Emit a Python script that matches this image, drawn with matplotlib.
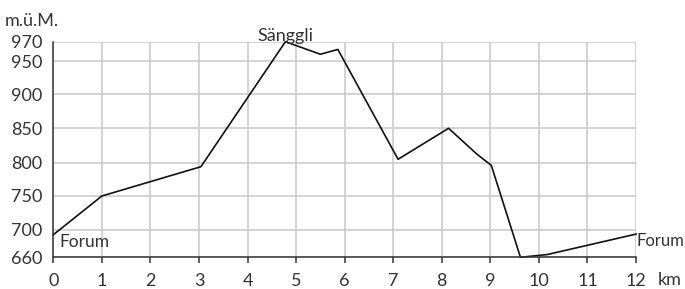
import numpy as np
import matplotlib
matplotlib.use("Agg")
import matplotlib.pyplot as plt
from matplotlib.scale import FuncScale

plt.rcParams["font.family"] = ["Lato", "DejaVu Sans"]

# Elevation profile (km, m.ü.M.)
km = [0, 1, 3.04, 4.78, 5.5, 5.86, 7.1, 8.14, 8.73, 9.02, 9.62, 10.17, 12]
hoehe = [693, 750, 794, 970, 957, 962, 805, 850, 812, 796, 660, 664, 694]

x_ticks = list(range(0, 13))
y_ticks = [660, 700, 750, 800, 850, 900, 950, 970]
# the original axis is not evenly spaced; relative positions of the ticks
y_pos = [0, 27.3, 61.3, 94.6, 129.0, 163.0, 196.3, 215.6]


def fwd(v):
    return np.interp(v, y_ticks, y_pos, left=-1e3, right=1e3)


def inv(p):
    return np.interp(p, y_pos, y_ticks)


fig = plt.figure(figsize=(6.85, 2.89), dpi=100)
ax = fig.add_axes([0.0778, 0.1097, 0.8507, 0.746])

ax.plot(km, hoehe, color="#111111", lw=1.2, zorder=3, clip_on=False)

ax.set_yscale(FuncScale(ax, (fwd, inv)))
ax.set_xlim(0, 12)
ax.set_ylim(660, 970)
ax.set_xticks(x_ticks)
ax.set_yticks(y_ticks)
ax.tick_params(axis="x", direction="out", length=4.5, width=1.1, color="#333333",
               labelsize=13, pad=6.5, labelcolor="#333333")
ax.tick_params(axis="y", length=0, labelsize=13, pad=8, labelcolor="#333333")
ax.grid(True, color="#c8c8c8", lw=1.1, zorder=0)

for s in ["top", "right"]:
    ax.spines[s].set_visible(False)
for s in ["left", "bottom"]:
    ax.spines[s].set_color("#333333")
    ax.spines[s].set_linewidth(1.1)
    ax.spines[s].set_zorder(4)

ax.text(-0.083, 1.06, "m.ü.M.", transform=ax.transAxes, fontsize=13,
        color="#333333", ha="left", va="bottom")
ax.text(12.45, -0.07, "km", transform=ax.get_xaxis_transform(), fontsize=13,
        color="#333333", ha="left", va="top")
ax.text(4.78, 968, "Sänggli", fontsize=13, color="#333333", ha="center", va="bottom")
ax.text(0.12, 682, "Forum", fontsize=12.5, color="#333333", ha="left", va="center")
ax.text(12.02, 684, "Forum", fontsize=12, color="#333333", ha="left", va="center")

fig.savefig("out.png", dpi=100)
